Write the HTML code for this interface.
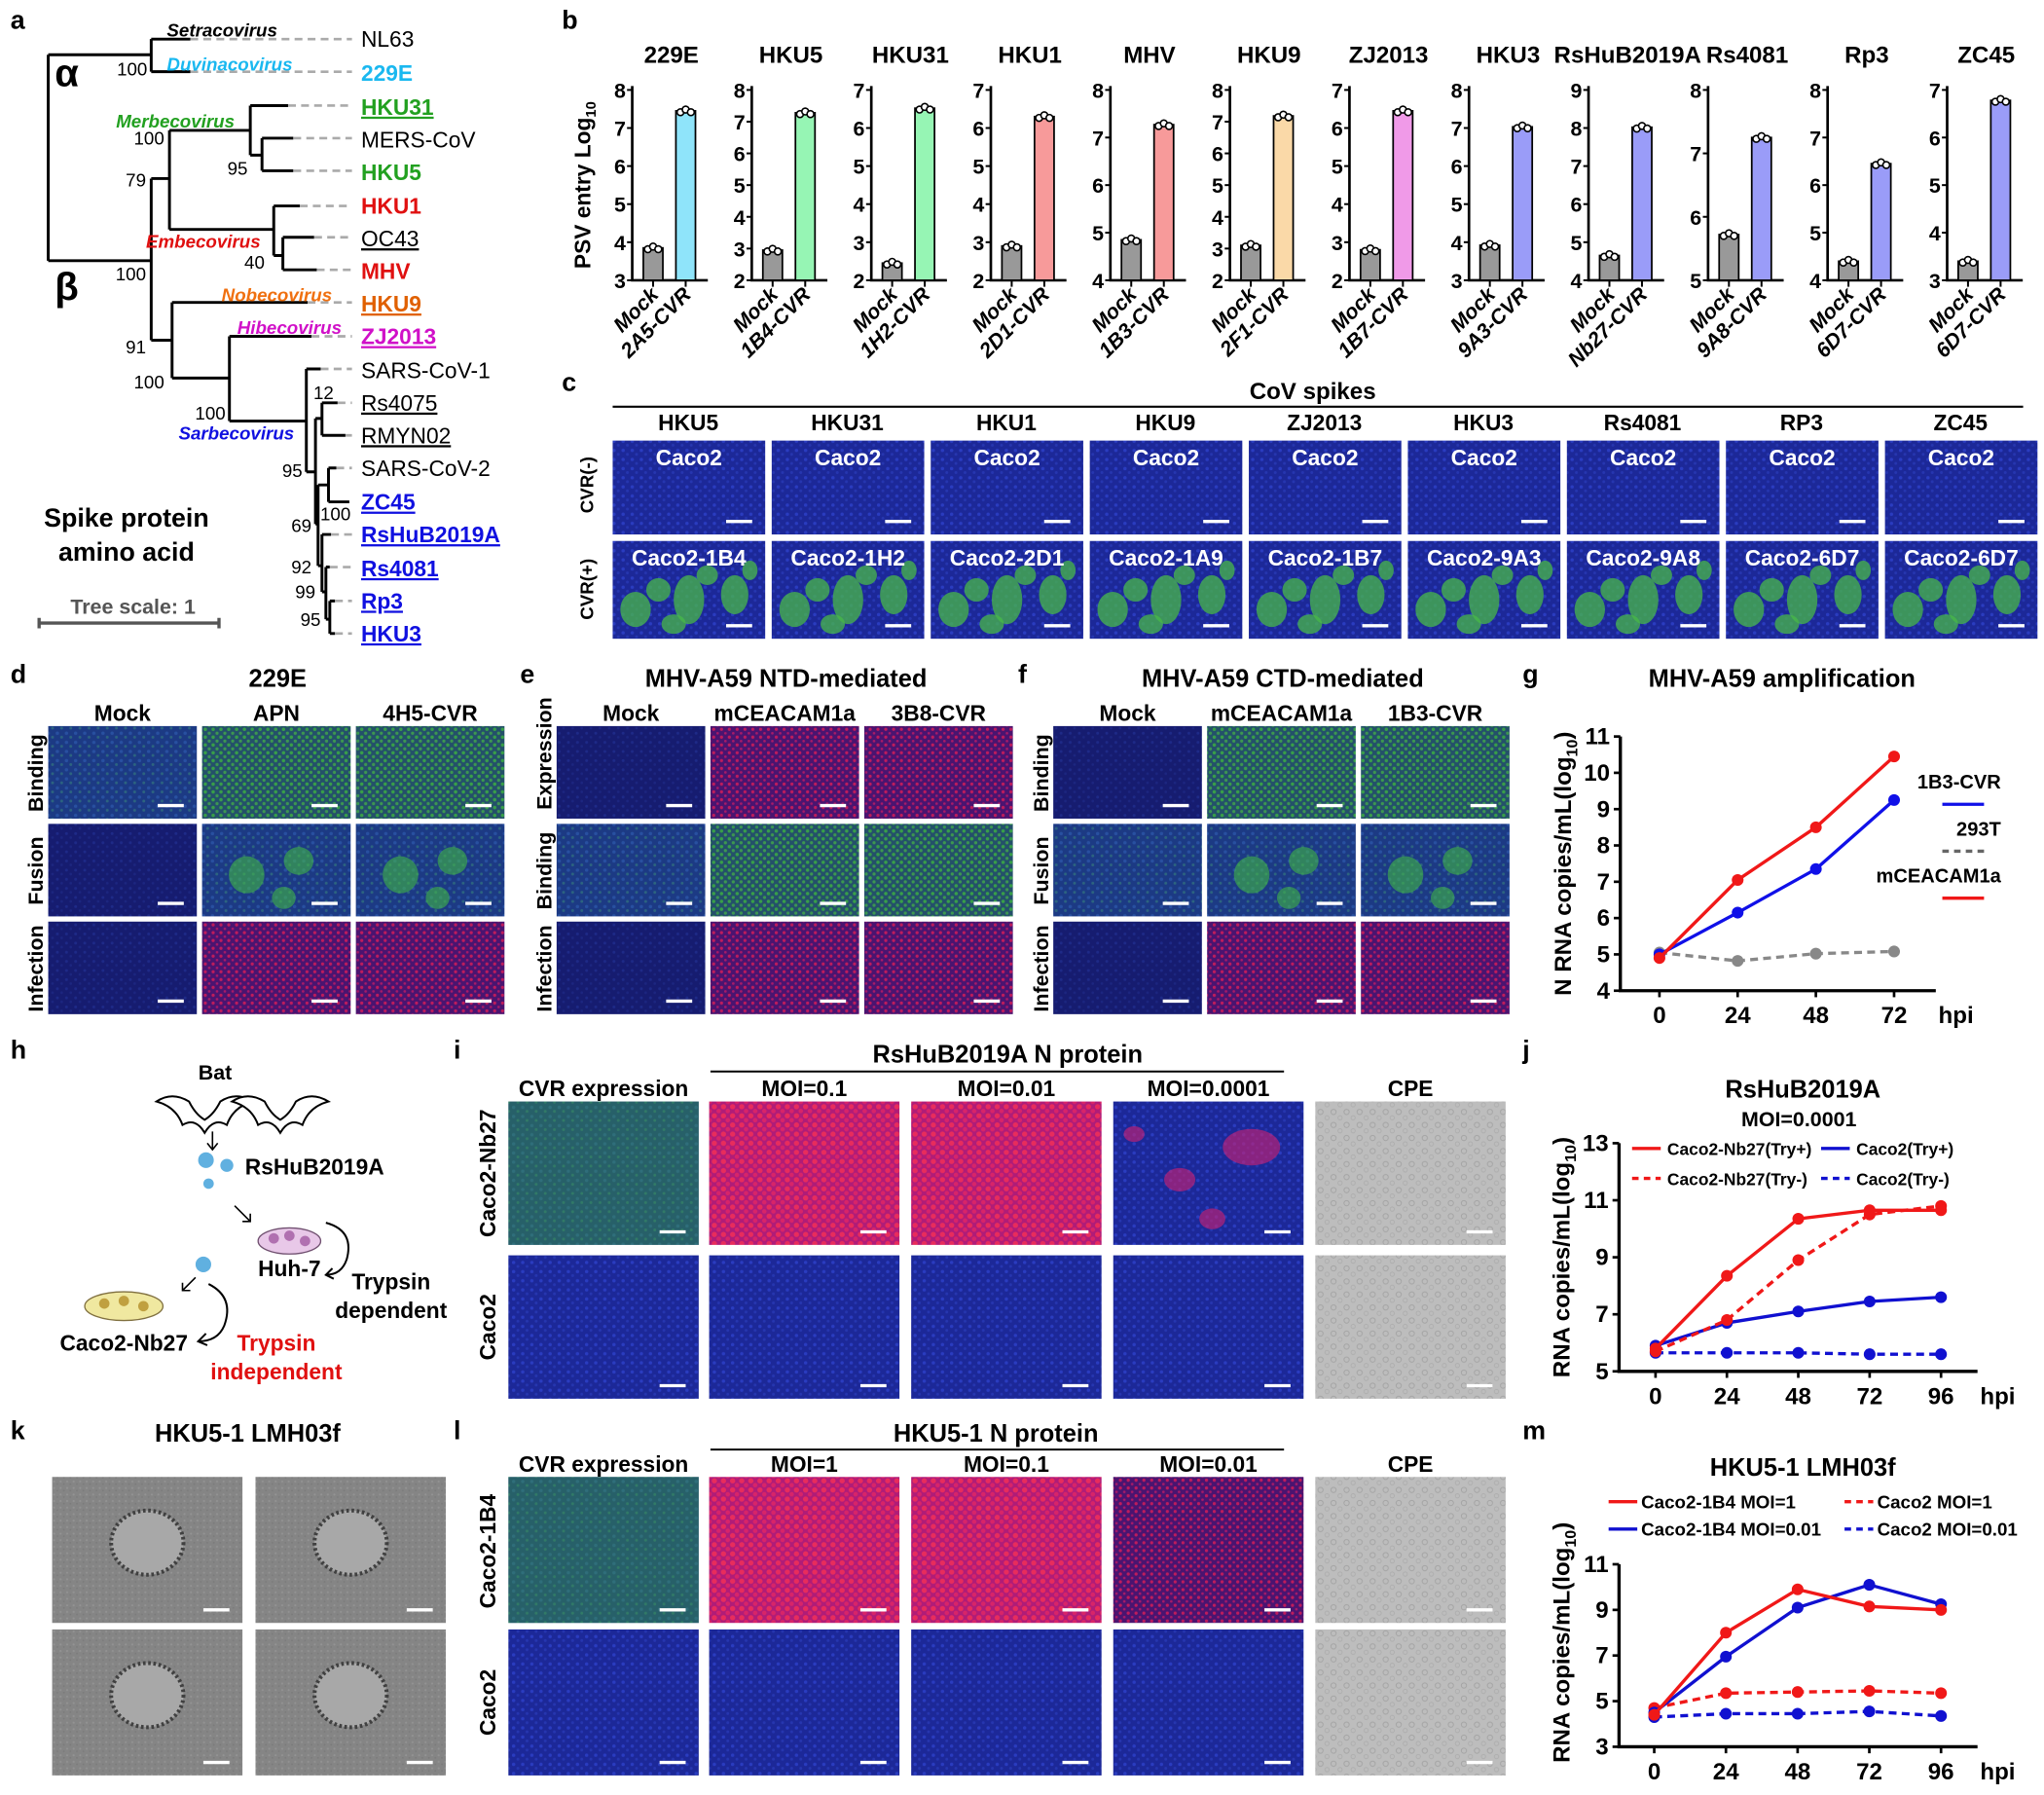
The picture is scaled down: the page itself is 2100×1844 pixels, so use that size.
<!DOCTYPE html>
<html><head><meta charset="utf-8"><style>
html,body{margin:0;padding:0;background:#fff;}
svg{display:block;font-family:"Liberation Sans",sans-serif;}
.b{font-weight:bold;}
.n{font-family:"Liberation Sans Narrow","Liberation Sans",sans-serif;font-weight:bold;}
</style></head><body>
<svg id="fig" width="2100" height="1844" viewBox="0 0 1568 1377" preserveAspectRatio="none" xmlns="http://www.w3.org/2000/svg">
<defs>
<pattern id="pBlue" width="7" height="7" patternUnits="userSpaceOnUse"><rect width="7" height="7" fill="#1c2898"/><circle cx="2" cy="2.5" r="1.3" fill="#2a3cc0"/><circle cx="5.3" cy="5.5" r="1.1" fill="#2636b0"/></pattern>
<pattern id="pDark" width="7" height="7" patternUnits="userSpaceOnUse"><rect width="7" height="7" fill="#161c70"/><circle cx="2" cy="2.5" r="1.1" fill="#1e2a88"/><circle cx="5.3" cy="5.5" r="1" fill="#1c2680"/></pattern>
<pattern id="pTeal" width="7" height="7" patternUnits="userSpaceOnUse"><rect width="7" height="7" fill="#1c3a84"/><circle cx="2" cy="2.5" r="1.3" fill="#2850a0"/><circle cx="5.3" cy="5.5" r="1.1" fill="#2c6480"/></pattern>
<pattern id="pGreenDots" width="6" height="6" patternUnits="userSpaceOnUse"><rect width="6" height="6" fill="#24506a"/><circle cx="1.5" cy="1.5" r="1.3" fill="#38a048"/><circle cx="4.5" cy="4.5" r="1.2" fill="#3c9850"/></pattern>
<pattern id="pRed" width="6" height="6" patternUnits="userSpaceOnUse"><rect width="6" height="6" fill="#4a1470"/><circle cx="1.5" cy="1.5" r="1.2" fill="#c01c5c"/><circle cx="4.5" cy="4.5" r="1" fill="#a81a68"/></pattern>
<pattern id="pPink" width="7" height="7" patternUnits="userSpaceOnUse"><rect width="7" height="7" fill="#b01c78"/><circle cx="2" cy="2" r="2" fill="#e82c5c"/><circle cx="5.3" cy="5.3" r="1.7" fill="#d82468"/></pattern>
<pattern id="pCpe" width="10" height="10" patternUnits="userSpaceOnUse"><rect width="10" height="10" fill="#bdbdbd"/><circle cx="3" cy="3" r="2" fill="none" stroke="#a4a4a4" stroke-width="0.7"/><circle cx="8" cy="7.5" r="1.6" fill="none" stroke="#acacac" stroke-width="0.6"/></pattern>
<pattern id="pEm" width="5" height="5" patternUnits="userSpaceOnUse"><rect width="5" height="5" fill="#858585"/><circle cx="1.5" cy="1.5" r="0.8" fill="#939393"/><circle cx="4" cy="3.5" r="0.7" fill="#7b7b7b"/></pattern>
</defs>

<g class="b" font-size="20">
<text x="8" y="22">a</text><text x="431" y="22">b</text><text x="431" y="300">c</text>
<text x="8" y="524">d</text><text x="399" y="524">e</text><text x="781" y="524">f</text><text x="1168" y="524">g</text>
<text x="8" y="812">h</text><text x="348" y="812">i</text><text x="1168" y="812">j</text>
<text x="8" y="1104">k</text><text x="348" y="1104">l</text><text x="1168" y="1104">m</text>
</g>

<g id="tree" stroke="#000" stroke-width="2.2" fill="none">
<path d="M37,42V200 M37,42H116 M116,30V55 M116,30H146 M116,55H146
M37,200H116 M116,137V261 M116,137H130 M130,100V176 M130,100H192 M192,81V119 M192,81H221 M192,119H201 M201,106V131 M201,106H225 M201,131H225
M130,176H210 M210,158V196 M210,158H230 M210,196H217 M217,182V207 M217,182H241 M217,207H243
M116,261H132 M132,232V290 M132,232H236 M132,290H176 M176,258V323 M176,258H239 M176,323H235 M235,283V362 M235,283H246 M235,362H242
M242,321V402 M242,321H247 M247,309V334 M247,309H259 M247,334H265 M242,402H244 M244,372V434 M244,372H252 M252,359V385 M252,359H258 M252,385H268
M244,434H247 M247,410V454 M247,410H254 M247,454H250 M250,435V475 M250,435H253 M250,475H253 M253,461V486 M253,461H257 M253,486H257"/>
<g stroke="#aaa" stroke-width="2" stroke-dasharray="6,4">
<path d="M146,30H270 M146,55H270 M221,81H270 M225,106H270 M225,131H270 M230,158H270 M241,182H270 M243,207H270 M236,232H270 M239,258H270 M246,283H270 M259,309H270 M265,334H270 M258,359H270 M254,410H270 M253,435H270 M257,461H270 M257,486H270"/>
</g>
</g>
<g font-size="14" text-anchor="end">
<text x="113" y="58">100</text><text x="126" y="111">100</text><text x="112" y="143">79</text><text x="190" y="134">95</text><text x="203" y="206">40</text>
<text x="112" y="215">100</text><text x="112" y="271">91</text><text x="126" y="298">100</text><text x="173" y="322">100</text><text x="256" y="306">12</text>
<text x="232" y="366">95</text><text x="269" y="399">100</text><text x="239" y="408">69</text><text x="239" y="440">92</text><text x="242" y="459">99</text><text x="246" y="480">95</text>
</g>
<g font-size="14" font-style="italic" class="b">
<text x="128" y="28">Setracovirus</text>
<text x="128" y="54" fill="#1ab8f0">Duvinacovirus</text>
<text x="89" y="98" fill="#22a020">Merbecovirus</text>
<text x="112" y="190" fill="#e01010">Embecovirus</text>
<text x="170" y="231" fill="#f07010">Nobecovirus</text>
<text x="182" y="256" fill="#d010c8">Hibecovirus</text>
<text x="137" y="337" fill="#1010e0">Sarbecovirus</text>
</g>
<text x="42" y="66" font-size="30" class="b">α</text>
<text x="42" y="230" font-size="30" class="b">β</text>
<g font-size="17">
<text x="277" y="36">NL63</text>
<text x="277" y="62" fill="#1ab8f0" class="b">229E</text>
<text x="277" y="88" fill="#22a020" class="b" text-decoration="underline">HKU31</text>
<text x="277" y="113">MERS-CoV</text>
<text x="277" y="138" fill="#22a020" class="b">HKU5</text>
<text x="277" y="164" fill="#e01010" class="b">HKU1</text>
<text x="277" y="189" text-decoration="underline">OC43</text>
<text x="277" y="214" fill="#e01010" class="b">MHV</text>
<text x="277" y="239" fill="#e06000" class="b" text-decoration="underline">HKU9</text>
<text x="277" y="264" fill="#d010c8" class="b" text-decoration="underline">ZJ2013</text>
<text x="277" y="290">SARS-CoV-1</text>
<text x="277" y="315" text-decoration="underline">Rs4075</text>
<text x="277" y="340" text-decoration="underline">RMYN02</text>
<text x="277" y="365">SARS-CoV-2</text>
<text x="277" y="391" fill="#1010e0" class="b" text-decoration="underline">ZC45</text>
<text x="277" y="416" fill="#1010e0" class="b" text-decoration="underline">RsHuB2019A</text>
<text x="277" y="442" fill="#1010e0" class="b" text-decoration="underline">Rs4081</text>
<text x="277" y="467" fill="#1010e0" class="b" text-decoration="underline">Rp3</text>
<text x="277" y="492" fill="#1010e0" class="b" text-decoration="underline">HKU3</text>
</g>
<text x="97" y="404" font-size="20" class="b" text-anchor="middle">Spike protein</text>
<text x="97" y="430" font-size="20" class="b" text-anchor="middle">amino acid</text>
<text x="102" y="471" font-size="16" class="b" fill="#555" text-anchor="middle">Tree scale: 1</text>
<path d="M30,478H168 M30,474V482 M168,474V482" stroke="#555" stroke-width="2.5"/>

<g id="panelB"></g>
<text transform="translate(453,142) rotate(-90)" font-size="17" class="b" text-anchor="middle">PSV entry Log<tspan font-size="11" dy="4">10</tspan></text>

<text x="1007" y="306" font-size="18" class="b" text-anchor="middle">CoV spikes</text>
<line x1="470" y1="312" x2="1552" y2="312" stroke="#000" stroke-width="1.5"/>
<g id="panelC"></g>
<text transform="translate(455,372) rotate(-90)" font-size="14" class="b" text-anchor="middle">CVR(-)</text>
<text transform="translate(455,452) rotate(-90)" font-size="14" class="b" text-anchor="middle">CVR(+)</text>

<g id="panelDEF"></g>
<g id="panelG"></g>

<g id="panelH">
<text x="165" y="828" font-size="16" class="b" text-anchor="middle">Bat</text>
<path d="M120,845 q12,-8 25,0 q5,10 12,14 q7,-4 12,-14 q12,-8 25,0 q-15,4 -20,18 q-10,-6 -17,6 q-7,-12 -17,-6 q-5,-14 -20,-18z" fill="#fff" stroke="#000" stroke-width="1.5"/>
<path d="M178,845 q12,-8 25,0 q5,10 12,14 q7,-4 12,-14 q12,-8 25,0 q-15,4 -20,18 q-10,-6 -17,6 q-7,-12 -17,-6 q-5,-14 -20,-18z" fill="#fff" stroke="#000" stroke-width="1.5"/>
<path d="M163,868 l0,14 m-4,-5 l4,5 l4,-5" stroke="#000" fill="none" stroke-width="1.2"/>
<circle cx="158" cy="890" r="6" fill="#60b0e0"/><circle cx="174" cy="894" r="5" fill="#60b0e0"/><circle cx="160" cy="908" r="4" fill="#60b0e0"/>
<text x="188" y="901" font-size="17" class="b">RsHuB2019A</text>
<path d="M180,925 l12,12 m-6,0 l6,0 l0,-6" stroke="#000" fill="none" stroke-width="1.2"/>
<ellipse cx="222" cy="952" rx="24" ry="10" fill="#e8c8e8" stroke="#705070"/>
<circle cx="210" cy="950" r="4" fill="#b070b0"/><circle cx="222" cy="948" r="4" fill="#b070b0"/><circle cx="234" cy="952" r="4" fill="#b070b0"/>
<text x="222" y="979" font-size="17" class="b" text-anchor="middle">Huh-7</text>
<path d="M250,938 q22,6 16,28 q-4,12 -16,12 m5,-5 l-5,5 l6,3" stroke="#000" fill="none" stroke-width="1.5"/>
<text x="300" y="989" font-size="17" class="b" text-anchor="middle">Trypsin</text>
<text x="300" y="1011" font-size="17" class="b" text-anchor="middle">dependent</text>
<circle cx="156" cy="970" r="6" fill="#60b0e0"/>
<path d="M150,980 l-10,10 m0,-6 l0,6 l6,0" stroke="#000" fill="none" stroke-width="1.2"/>
<ellipse cx="95" cy="1002" rx="30" ry="11" fill="#f0e8a0" stroke="#807040"/>
<circle cx="80" cy="1000" r="4" fill="#c0a040"/><circle cx="95" cy="998" r="4" fill="#c0a040"/><circle cx="110" cy="1002" r="4" fill="#c0a040"/>
<path d="M160,985 q20,10 12,32 q-5,12 -20,12 m6,-6 l-6,6 l7,3" stroke="#000" fill="none" stroke-width="1.5"/>
<text x="95" y="1036" font-size="17" class="b" text-anchor="middle">Caco2-Nb27</text>
<text x="212" y="1036" font-size="17" class="b" fill="#e01010" text-anchor="middle">Trypsin</text>
<text x="212" y="1058" font-size="17" class="b" fill="#e01010" text-anchor="middle">independent</text>
</g>

<g id="panelIKL"></g>
<g id="panelJ"></g>
<g id="panelM"></g>
</svg>

<script>
// ---------- Panel b data ----------
const bTitles = ["229E","HKU5","HKU31","HKU1","MHV","HKU9","ZJ2013","HKU3","RsHuB2019A","Rs4081","Rp3","ZC45"];
const bCvrNames = ["2A5-CVR","1B4-CVR","1H2-CVR","2D1-CVR","1B3-CVR","2F1-CVR","1B7-CVR","9A3-CVR","Nb27-CVR","9A8-CVR","6D7-CVR","6D7-CVR"];
const bMockValues = [3.85,2.95,2.45,2.9,4.85,3.1,2.8,3.92,4.65,5.72,4.4,3.4];
const bCvrValues = [7.45,7.28,6.52,6.3,7.27,7.18,6.45,7.03,8.02,7.25,6.45,6.78];
const bYMin = [3,2,2,2,4,2,2,3,4,5,4,3];
const bYMax = [8,8,7,7,8,8,7,8,9,8,8,7];
const bColors = ["#8fe4fa","#96f5b4","#96f5b4","#f79a9a","#f79a9a","#fad9a8","#f09ae8","#9a9cf8","#9a9cf8","#9a9cf8","#9a9cf8","#9a9cf8"];

// ---------- Panel g data ----------
const gHours = [0,24,48,72];
const gCvr = [5.0,6.15,7.35,9.25];
const g293T = [5.05,4.82,5.02,5.08];
const gCeacam = [4.9,7.05,8.5,10.45];
const gYTicks = [4,5,6,7,8,9,10,11];

// ---------- Panel j data ----------
const jHours = [0,24,48,72,96];
const jNb27TryPlus = [5.8,8.35,10.35,10.65,10.65];
const jNb27TryMinus = [5.7,6.8,8.9,10.5,10.8];
const jCacoTryPlus = [5.9,6.7,7.1,7.45,7.6];
const jCacoTryMinus = [5.65,5.65,5.65,5.6,5.6];
const jYTicks = [5,7,9,11,13];

// ---------- Panel m data ----------
const mHours = [0,24,48,72,96];
const m1B4Moi1 = [4.4,8.0,9.9,9.15,9.0];
const m1B4Moi001 = [4.5,6.95,9.1,10.1,9.25];
const mCacoMoi1 = [4.7,5.35,5.4,5.45,5.35];
const mCacoMoi001 = [4.3,4.45,4.45,4.55,4.35];
const mYTicks = [3,5,7,9,11];

const NS = "http://www.w3.org/2000/svg";
function mk(parent, tag, attrs, txt){
  const e = document.createElementNS(NS, tag);
  for (const k in attrs) e.setAttribute(k, attrs[k]);
  if (txt !== undefined) e.textContent = txt;
  parent.appendChild(e);
  return e;
}

(function(){
  const g = document.getElementById('panelB');
  const y0 = 215, y1 = 69;
  for (let i = 0; i < bTitles.length; i++) {
    const ax = 485 + i * 91.7;
    const sy = v => y0 - (v - bYMin[i]) / (bYMax[i] - bYMin[i]) * (y0 - y1);
    const t = mk(g, 'text', {x: ax + 30, y: 48, 'font-size': 18, class: 'n', 'text-anchor': 'middle'}, bTitles[i]);
    
    
    const axis = mk(g, 'path', {d: `M${ax},${y1 - 3}V${y0}H${ax + 58}`, stroke: '#000', 'stroke-width': 2, fill: 'none'});
    
    
    for (let v = bYMin[i]; v <= bYMax[i]; v++) {
      mk(g, 'line', {x1: ax - 4, x2: ax, y1: sy(v), y2: sy(v), stroke: '#000', 'stroke-width': 1.5});
      const tl = mk(g, 'text', {x: ax - 5, y: sy(v) + 6, 'font-size': 16, class: 'n', 'text-anchor': 'end'}, v);
      
      
    }
    const vals = [bMockValues[i], bCvrValues[i]];
    const cols = ['#999', bColors[i]];
    const names = ['Mock', bCvrNames[i]];
    [16, 41].forEach((dx, j) => {
      const cx = ax + dx;
      const bar = mk(g, 'rect', {x: cx - 7.5, y: sy(vals[j]), width: 15, height: y0 - sy(vals[j]), fill: cols[j], stroke: '#000', 'stroke-width': 1.3});
      
      
      mk(g, 'line', {x1: cx, x2: cx, y1: y0, y2: y0 + 5, stroke: '#000', 'stroke-width': 1.5});
      [-4, 0, 4].forEach((o, k) => {
        mk(g, 'circle', {cx: cx + o, cy: sy(vals[j]) + (k === 1 ? -1 : 1), r: 2.6, fill: '#fff', stroke: '#000', 'stroke-width': 1.2});
      });
      const xl = mk(g, 'text', {transform: `translate(${cx + 5},${y0 + 12}) rotate(-45)`, 'font-size': 16, class: 'n', 'font-style': 'italic', 'text-anchor': 'end'}, names[j]);
      
      
    });
  }
})();

function img(parent, x, y, w, h, type, name, label){
  const gg = mk(parent, 'g', {});
  
  
  const fills = {blue:'url(#pBlue)', dark:'url(#pDark)', teal:'url(#pTeal)', gdots:'url(#pGreenDots)', red:'url(#pRed)', pink:'url(#pPink)', cpe:'url(#pCpe)', em:'url(#pEm)', green:'url(#pBlue)', fusion:'url(#pTeal)', gexp:'url(#pTeal)'};
  mk(gg, 'rect', {x, y, width: w, height: h, fill: fills[type]});
  if (type === 'green') {
    const pts = [[0.15,0.7,0.1,0.18],[0.3,0.5,0.08,0.12],[0.5,0.6,0.1,0.25],[0.62,0.35,0.07,0.1],[0.8,0.55,0.09,0.2],[0.9,0.3,0.05,0.1],[0.4,0.85,0.08,0.1]];
    pts.forEach(p => mk(gg, 'ellipse', {cx: x + p[0]*w, cy: y + p[1]*h, rx: p[2]*w, ry: p[3]*h, fill: '#48b848', opacity: 0.75}));
  }
  if (type === 'fusion') {
    [[0.3,0.55,0.12,0.2],[0.65,0.4,0.1,0.15],[0.55,0.8,0.08,0.12]].forEach(p => mk(gg, 'ellipse', {cx: x + p[0]*w, cy: y + p[1]*h, rx: p[2]*w, ry: p[3]*h, fill: '#44c040', opacity: 0.55}));
  }
  if (type === 'gexp') {
    mk(gg, 'rect', {x, y, width: w, height: h, fill: '#3a9a40', opacity: 0.4});
  }
  if (type === 'em') {
    mk(gg, 'ellipse', {cx: x + w*0.5, cy: y + h*0.45, rx: w*0.19, ry: h*0.22, fill: '#a8a8a8', stroke: '#404040', 'stroke-width': 3, 'stroke-dasharray': '2,2'});
  }
  mk(gg, 'line', {x1: x + w - 30, x2: x + w - 10, y1: y + h - 10, y2: y + h - 10, stroke: '#fff', 'stroke-width': 2.5});
  if (label) {
    mk(gg, 'text', {x: x + w/2, y: y + 19, 'font-size': 17, class: 'b', fill: '#fff', 'text-anchor': 'middle'}, label);
  }
}

(function(){
  const p = document.getElementById('panelC');
  const heads = ["HKU5","HKU31","HKU1","HKU9","ZJ2013","HKU3","Rs4081","RP3","ZC45"];
  const lab2 = ["Caco2-1B4","Caco2-1H2","Caco2-2D1","Caco2-1A9","Caco2-1B7","Caco2-9A3","Caco2-9A8","Caco2-6D7","Caco2-6D7"];
  for (let i = 0; i < 9; i++) {
    const x = 470 + i * 122;
    const h = mk(p, 'text', {x: x + 58, y: 330, 'font-size': 17, class: 'b', 'text-anchor': 'middle'}, heads[i]);
    
    
    img(p, x, 338, 117, 72, 'blue', 'caco2-image', 'Caco2');
    img(p, x, 415, 117, 75, 'green', 'cvr-image', lab2[i]);
  }
})();

(function(){
  const p = document.getElementById('panelDEF');
  const panels = [
    {x: 37, title: '229E', cols: ['Mock','APN','4H5-CVR'], rows: ['Binding','Fusion','Infection'],
     types: [['teal','gdots','gdots'],['dark','fusion','fusion'],['dark','red','red']]},
    {x: 427, title: 'MHV-A59 NTD-mediated', cols: ['Mock','mCEACAM1a','3B8-CVR'], rows: ['Expression','Binding','Infection'],
     types: [['dark','red','red'],['teal','gdots','gdots'],['dark','red','red']]},
    {x: 808, title: 'MHV-A59 CTD-mediated', cols: ['Mock','mCEACAM1a','1B3-CVR'], rows: ['Binding','Fusion','Infection'],
     types: [['dark','gdots','gdots'],['teal','fusion','fusion'],['dark','red','red']]}
  ];
  panels.forEach(pp => {
    const t = mk(p, 'text', {x: pp.x + 176, y: 527, 'font-size': 19, class: 'b', 'text-anchor': 'middle'}, pp.title);
    
    
    for (let c = 0; c < 3; c++) {
      const cx = pp.x + c * 118;
      const h = mk(p, 'text', {x: cx + 57, y: 553, 'font-size': 17, class: 'b', 'text-anchor': 'middle'}, pp.cols[c]);
      
      
      for (let r = 0; r < 3; r++) {
        img(p, cx, 557 + r * 75, 114, 71, pp.types[r][c], 'micrograph');
      }
    }
    for (let r = 0; r < 3; r++) {
      const isLong = pp.rows[r] === 'Expression';
      const cy = isLong ? 578 : 593 + r * 75;
      const rl = mk(p, 'text', {transform: `translate(${pp.x - 4},${cy}) rotate(-90)`, 'font-size': 16, class: 'b', 'text-anchor': 'middle'}, pp.rows[r]);
      
      
    }
  });
})();

(function(){
  const p = document.getElementById('panelIKL');
  const colX = [390, 544, 699, 854, 1009];
  const headsI = ['CVR expression','MOI=0.1','MOI=0.01','MOI=0.0001','CPE'];
  const headsL = ['CVR expression','MOI=1','MOI=0.1','MOI=0.01','CPE'];
  const t1 = mk(p, 'text', {x: 773, y: 815, 'font-size': 19, class: 'b', 'text-anchor': 'middle'}, 'RsHuB2019A N protein');
  
  
  mk(p, 'line', {x1: 545, x2: 985, y1: 822, y2: 822, stroke: '#000', 'stroke-width': 1.5});
  const t2 = mk(p, 'text', {x: 764, y: 1106, 'font-size': 19, class: 'b', 'text-anchor': 'middle'}, 'HKU5-1 N protein');
  
  
  mk(p, 'line', {x1: 545, x2: 985, y1: 1112, y2: 1112, stroke: '#000', 'stroke-width': 1.5});
  const typesI = [['gexp','pink','pink','blue','cpe'],['blue','blue','blue','blue','cpe']];
  const typesL = [['gexp','pink','pink','red','cpe'],['blue','blue','blue','blue','cpe']];
  for (let c = 0; c < 5; c++) {
    const h1 = mk(p, 'text', {x: colX[c] + 73, y: 841, 'font-size': 17, class: 'b', 'text-anchor': 'middle'}, headsI[c]);
    
    
    const h2 = mk(p, 'text', {x: colX[c] + 73, y: 1129, 'font-size': 17, class: 'b', 'text-anchor': 'middle'}, headsL[c]);
    
    
    img(p, colX[c], 845, 146, 110, typesI[0][c], 'micrograph');
    img(p, colX[c], 963, 146, 110, typesI[1][c], 'micrograph');
    img(p, colX[c], 1133, 146, 112, typesL[0][c], 'micrograph');
    img(p, colX[c], 1250, 146, 112, typesL[1][c], 'micrograph');
  }
  [[960,880,22,14],[905,905,12,9],[930,935,10,8],[870,870,8,6]].forEach(e => mk(p, 'ellipse', {cx: e[0], cy: e[1], rx: e[2], ry: e[3], fill: '#d02070', opacity: 0.6}));
  [['Caco2-Nb27', 900], ['Caco2', 1018], ['Caco2-1B4', 1190], ['Caco2', 1306]].forEach(r => {
    const rl = mk(p, 'text', {transform: `translate(380,${r[1]}) rotate(-90)`, 'font-size': 17, class: 'b', 'text-anchor': 'middle'}, r[0]);
    
    
  });
  const tk = mk(p, 'text', {x: 190, y: 1106, 'font-size': 19, class: 'b', 'text-anchor': 'middle'}, 'HKU5-1 LMH03f');
  
  
  [[40,1133],[196,1133],[40,1250],[196,1250]].forEach(q => img(p, q[0], q[1], 146, 112, 'em', 'em-image'));
})();

function lineChart(g, o){
  const sx = h => o.x0 + (h - o.hmin) / (o.hmax - o.hmin) * (o.x1 - o.x0);
  const sy = v => o.yb - (v - o.vmin) / (o.vmax - o.vmin) * (o.yb - o.yt);
  const ax = mk(g, 'path', {d: `M${o.axL},${sy(o.vmax)}V${o.yb}H${o.axR}`, stroke: '#000', 'stroke-width': 2.5, fill: 'none'});
  
  
  o.yticks.forEach(v => {
    mk(g, 'line', {x1: o.axL - 5, x2: o.axL, y1: sy(v), y2: sy(v), stroke: '#000', 'stroke-width': 2});
    const t = mk(g, 'text', {x: o.axL - 8, y: sy(v) + 6, 'font-size': 18, class: 'b', 'text-anchor': 'end'}, v);
    
    
  });
  o.hours.forEach(h => {
    mk(g, 'line', {x1: sx(h), x2: sx(h), y1: o.yb, y2: o.yb + 5, stroke: '#000', 'stroke-width': 2});
    const t = mk(g, 'text', {x: sx(h), y: o.yb + 25, 'font-size': 18, class: 'b', 'text-anchor': 'middle'}, h);
    
    
  });
  const hp = mk(g, 'text', {x: o.axR + 2, y: o.yb + 25, 'font-size': 18, class: 'b'}, 'hpi');
  
  
  const yl = mk(g, 'text', {transform: `translate(${o.axL - 38},${(sy(o.vmax) + o.yb) / 2 + o.ylOff}) rotate(-90)`, 'font-size': 18, class: 'b', 'text-anchor': 'middle'});
  
  
  yl.appendChild(document.createTextNode(o.ylabel + '(log'));
  mk(yl, 'tspan', {'font-size': 12, dy: 5}, '10');
  mk(yl, 'tspan', {dy: -5}, ')');
  o.series.forEach(s => {
    const d = s.vals.map((v, i) => (i ? 'L' : 'M') + sx(o.hours[i]) + ',' + sy(v)).join('');
    const pth = mk(g, 'path', {d, stroke: s.color, 'stroke-width': 2.5, fill: 'none', 'stroke-dasharray': s.dash ? '6,4' : 'none'});
    
    
    s.vals.forEach((v, i) => {
      const c = mk(g, 'circle', {cx: sx(o.hours[i]), cy: sy(v), r: 4.5, fill: s.color});
      
      
    });
  });
}

(function(){
  const g = document.getElementById('panelG');
  const t = mk(g, 'text', {x: 1367, y: 527, 'font-size': 19, class: 'b', 'text-anchor': 'middle'}, 'MHV-A59 amplification');
  
  
  lineChart(g, {x0: 1273, x1: 1453, hmin: 0, hmax: 72, yb: 760, yt: 565, vmin: 4, vmax: 11, axL: 1243, axR: 1485,
    yticks: gYTicks, hours: gHours, ylabel: 'N RNA copies/mL', ylOff: 0,
    series: [{vals: g293T, color: '#888', dash: true, name: 'series-293t'},
             {vals: gCvr, color: '#1010e8', name: 'series-1b3-cvr'},
             {vals: gCeacam, color: '#f01818', name: 'series-mceacam1a'}]});
  const lg = [['1B3-CVR', 605, '#1010e8', false], ['293T', 641, '#666', true], ['mCEACAM1a', 677, '#f01818', false]];
  lg.forEach(l => {
    const tx = mk(g, 'text', {x: 1535, y: l[1], 'font-size': 15, class: 'b', 'text-anchor': 'end'}, l[0]);
    
    
    mk(g, 'line', {x1: 1490, x2: 1522, y1: l[1] + 12, y2: l[1] + 12, stroke: l[2], 'stroke-width': 2.5, 'stroke-dasharray': l[3] ? '5,4' : 'none'});
  });
})();

(function(){
  const g = document.getElementById('panelJ');
  const t = mk(g, 'text', {x: 1383, y: 842, 'font-size': 19, class: 'b', 'text-anchor': 'middle'}, 'RsHuB2019A');
  
  
  const t2 = mk(g, 'text', {x: 1380, y: 864, 'font-size': 16, class: 'b', 'text-anchor': 'middle'}, 'MOI=0.0001');
  
  
  lineChart(g, {x0: 1270, x1: 1489, hmin: 0, hmax: 96, yb: 1052, yt: 877, vmin: 5, vmax: 13, axL: 1242, axR: 1517,
    yticks: jYTicks, hours: jHours, ylabel: 'RNA copies/mL', ylOff: 0,
    series: [{vals: jCacoTryMinus, color: '#1010d0', dash: true, name: 'series-caco2-try-minus'},
             {vals: jCacoTryPlus, color: '#1010d0', name: 'series-caco2-try-plus'},
             {vals: jNb27TryMinus, color: '#f01818', dash: true, name: 'series-nb27-try-minus'},
             {vals: jNb27TryPlus, color: '#f01818', name: 'series-nb27-try-plus'}]});
  const lg = [['Caco2-Nb27(Try+)', 1252, 886, '#f01818', false], ['Caco2(Try+)', 1397, 886, '#1010d0', false],
              ['Caco2-Nb27(Try-)', 1252, 909, '#f01818', true], ['Caco2(Try-)', 1397, 909, '#1010d0', true]];
  lg.forEach(l => {
    mk(g, 'line', {x1: l[1], x2: l[1] + 22, y1: l[2] - 5, y2: l[2] - 5, stroke: l[3], 'stroke-width': 2.5, 'stroke-dasharray': l[4] ? '5,4' : 'none'});
    const tx = mk(g, 'text', {x: l[1] + 27, y: l[2], 'font-size': 13, class: 'b'}, l[0]);
    
    
  });
})();

(function(){
  const g = document.getElementById('panelM');
  const t = mk(g, 'text', {x: 1383, y: 1132, 'font-size': 19, class: 'b', 'text-anchor': 'middle'}, 'HKU5-1 LMH03f');
  
  
  lineChart(g, {x0: 1269, x1: 1489, hmin: 0, hmax: 96, yb: 1340, yt: 1200, vmin: 3, vmax: 11, axL: 1242, axR: 1517,
    yticks: mYTicks, hours: mHours, ylabel: 'RNA copies/mL', ylOff: -10,
    series: [{vals: mCacoMoi001, color: '#1010d0', dash: true, name: 'series-caco2-moi-0.01'},
             {vals: mCacoMoi1, color: '#f01818', dash: true, name: 'series-caco2-moi-1'},
             {vals: m1B4Moi001, color: '#1010d0', name: 'series-1b4-moi-0.01'},
             {vals: m1B4Moi1, color: '#f01818', name: 'series-1b4-moi-1'}]});
  const lg = [['Caco2-1B4 MOI=1', 1234, 1157, '#f01818', false], ['Caco2 MOI=1', 1415, 1157, '#f01818', true],
              ['Caco2-1B4 MOI=0.01', 1234, 1178, '#1010d0', false], ['Caco2 MOI=0.01', 1415, 1178, '#1010d0', true]];
  lg.forEach(l => {
    mk(g, 'line', {x1: l[1], x2: l[1] + 22, y1: l[2] - 5, y2: l[2] - 5, stroke: l[3], 'stroke-width': 2.5, 'stroke-dasharray': l[4] ? '5,4' : 'none'});
    const tx = mk(g, 'text', {x: l[1] + 25, y: l[2], 'font-size': 14, class: 'b'}, l[0]);
    
    
  });
})();
</script>
</body></html>
